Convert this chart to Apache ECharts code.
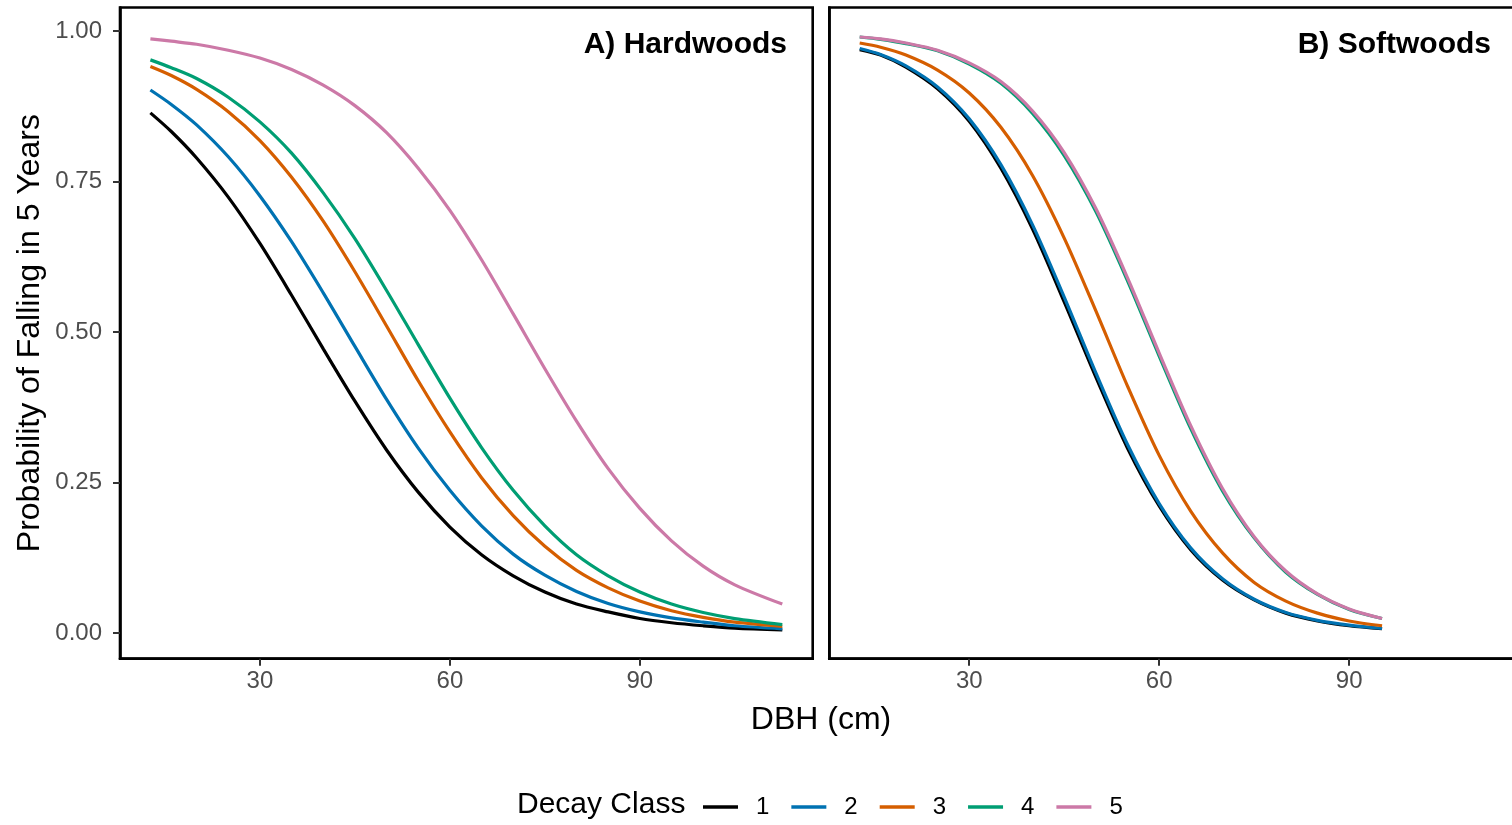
<!DOCTYPE html>
<html>
<head>
<meta charset="utf-8">
<script src="https://cdn.jsdelivr.net/npm/echarts@6/dist/echarts.min.js"></script>
<style>
html,body{margin:0;padding:0;background:#fff;overflow:hidden;}
#chart{width:1512px;height:825px;}
</style>
</head>
<body>
<div id="chart"></div>
<script>
// ---- data ----
const decayClasses = ['1', '2', '3', '4', '5'];
const classColors = ['#000000', '#0072B2', '#D55E00', '#009E73', '#CC79A7'];
const panelTitles = ['A) Hardwoods', 'B) Softwoods'];
const xTickValues = [30, 60, 90];
const yTickValues = [0, 0.25, 0.5, 0.75, 1];

const dbhHard = [12.7, 16, 20, 25, 30, 35, 40, 45, 50, 55, 60, 65, 70, 75, 80, 85, 90, 95, 100, 105, 112.5];
const hard1 = [0.864, 0.833, 0.789, 0.724, 0.647, 0.561, 0.472, 0.385, 0.304, 0.234, 0.176, 0.130, 0.095, 0.068, 0.048, 0.035, 0.024, 0.017, 0.012, 0.008, 0.005];
const hard2 = [0.902, 0.878, 0.844, 0.791, 0.726, 0.650, 0.565, 0.476, 0.388, 0.307, 0.237, 0.178, 0.131, 0.096, 0.069, 0.049, 0.035, 0.025, 0.018, 0.012, 0.007];
const hard3 = [0.941, 0.926, 0.903, 0.866, 0.818, 0.757, 0.684, 0.600, 0.510, 0.419, 0.334, 0.258, 0.195, 0.144, 0.104, 0.075, 0.053, 0.037, 0.026, 0.018, 0.011];
const hard4 = [0.952, 0.939, 0.921, 0.890, 0.849, 0.797, 0.731, 0.655, 0.569, 0.479, 0.390, 0.308, 0.237, 0.178, 0.130, 0.095, 0.068, 0.048, 0.034, 0.024, 0.014];
const hard5 = [0.987, 0.983, 0.978, 0.968, 0.955, 0.936, 0.910, 0.876, 0.831, 0.772, 0.702, 0.620, 0.530, 0.439, 0.352, 0.273, 0.207, 0.153, 0.111, 0.080, 0.048];

const dbhSoft = [12.7, 16, 20, 25, 30, 35, 40, 45, 50, 55, 60, 65, 70, 75, 80, 85, 90, 95.2];
const soft1 = [0.969, 0.960, 0.940, 0.904, 0.850, 0.772, 0.671, 0.550, 0.425, 0.307, 0.211, 0.138, 0.088, 0.055, 0.033, 0.020, 0.012, 0.007];
const soft2 = [0.971, 0.961, 0.942, 0.907, 0.854, 0.778, 0.678, 0.558, 0.432, 0.313, 0.215, 0.141, 0.090, 0.056, 0.034, 0.021, 0.013, 0.0075];
const soft3 = [0.980, 0.973, 0.960, 0.935, 0.897, 0.840, 0.760, 0.656, 0.535, 0.410, 0.295, 0.202, 0.133, 0.084, 0.053, 0.033, 0.020, 0.012];
const soft4 = [0.990, 0.986, 0.979, 0.967, 0.945, 0.913, 0.863, 0.793, 0.700, 0.585, 0.460, 0.339, 0.236, 0.158, 0.101, 0.064, 0.039, 0.024];
const soft5 = [0.990, 0.987, 0.980, 0.968, 0.947, 0.916, 0.867, 0.798, 0.705, 0.590, 0.465, 0.344, 0.240, 0.160, 0.103, 0.065, 0.040, 0.024];

const hardSeries = [hard1, hard2, hard3, hard4, hard5];
const softSeries = [soft1, soft2, soft3, soft4, soft5];

// ---- layout ----
const FONT = '"Liberation Sans", Arial, sans-serif';
const X_MIN = 7.9, X_MAX = 117.3;
const Y_MIN = -0.0427, Y_MAX = 1.039;
const GRID_TOP = 7.5, GRID_H = 651.2, GRID_W = 692.7;
const LEFT_A = 120, LEFT_B = 829.3;
const BORDER = 2.6;

function zip(xs, ys) { return xs.map((x, i) => [x, ys[i]]); }

const chart = echarts.init(document.getElementById('chart'), null, {renderer: 'canvas'});

const grids = [LEFT_A, LEFT_B].map(l => ({
  left: l, top: GRID_TOP, width: GRID_W, height: GRID_H,
  show: true, borderColor: '#000', borderWidth: BORDER,
  containLabel: false, outerBoundsMode: 'none'
}));

const xAxes = [0, 1].map(i => ({
  type: 'value', gridIndex: i, min: X_MIN, max: X_MAX,
  axisLine: {show: true, onZero: false, lineStyle: {color: '#000', width: BORDER}},
  splitLine: {show: false},
  axisTick: {show: true, length: 7, lineStyle: {color: '#333', width: 2}, customValues: xTickValues},
  axisLabel: {show: true, fontSize: 24, color: '#4D4D4D', fontFamily: FONT, margin: 11, customValues: xTickValues,
    formatter: v => String(v)}
}));

const yAxes = [0, 1].map(i => ({
  type: 'value', gridIndex: i, min: Y_MIN, max: Y_MAX,
  axisLine: {show: true, onZero: false, lineStyle: {color: '#000', width: BORDER}},
  splitLine: {show: false},
  axisTick: {show: i === 0, length: 7, lineStyle: {color: '#333', width: 2}, customValues: yTickValues},
  axisLabel: {show: i === 0, fontSize: 24, color: '#4D4D4D', fontFamily: FONT, margin: 18, customValues: yTickValues,
    formatter: v => v.toFixed(2)},
  name: i === 0 ? 'Probability of Falling in 5 Years' : '',
  nameLocation: 'middle', nameGap: 74, nameRotate: 90,
  nameTextStyle: {fontSize: 32, color: '#000', fontFamily: FONT}
}));

const series = [];
[hardSeries, softSeries].forEach((group, gi) => {
  const xs = gi === 0 ? dbhHard : dbhSoft;
  group.forEach((ys, ci) => {
    series.push({
      type: 'line', name: decayClasses[ci],
      xAxisIndex: gi, yAxisIndex: gi,
      data: zip(xs, ys),
      smooth: 0.3,
      showSymbol: false, symbol: 'none',
      lineStyle: {color: classColors[ci], width: 3.2},
      itemStyle: {color: classColors[ci]},
      z: 2 + ci,
      clip: true
    });
  });
});

const option = {
  animation: false,
  backgroundColor: '#fff',
  grid: grids,
  xAxis: xAxes,
  yAxis: yAxes,
  series: series,
  legend: {
    data: decayClasses,
    left: 698, top: 790,
    orient: 'horizontal',
    icon: 'rect', itemWidth: 35, itemHeight: 3.5, itemGap: 22,
    textStyle: {fontSize: 24, color: '#000', fontFamily: FONT, padding: [0, 0, 0, 13]},
    selectedMode: false
  },
  graphic: [
    {type: 'text', x: 787, y: 45, style: {text: panelTitles[0], font: 'bold 30px ' + FONT, fill: '#000', align: 'right', verticalAlign: 'middle'}, z: 100},
    {type: 'text', x: 1491, y: 45, style: {text: panelTitles[1], font: 'bold 30px ' + FONT, fill: '#000', align: 'right', verticalAlign: 'middle'}, z: 100},
    {type: 'text', x: 821, y: 720, style: {text: 'DBH (cm)', font: '32px ' + FONT, fill: '#000', align: 'center', verticalAlign: 'middle'}, z: 100},
    {type: 'text', x: 517, y: 805, style: {text: 'Decay Class', font: '30px ' + FONT, fill: '#000', align: 'left', verticalAlign: 'middle'}, z: 100}
  ]
};

chart.setOption(option);
</script>
</body>
</html>
